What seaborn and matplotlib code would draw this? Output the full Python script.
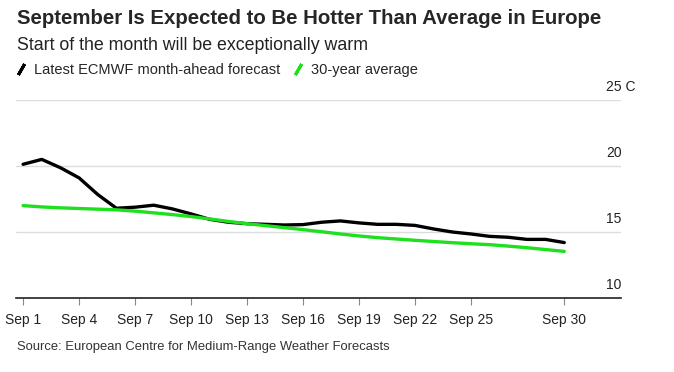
import matplotlib
matplotlib.use("Agg")
import matplotlib.pyplot as plt
import matplotlib.transforms as mtransforms
from matplotlib.lines import Line2D
import pandas as pd
import seaborn as sns

# daily values, deg C
days = list(range(1, 31))
forecast = [20.13, 20.5, 19.87, 19.1, 17.84, 16.8, 16.88, 17.03, 16.75, 16.37,
            15.96, 15.74, 15.63, 15.58, 15.53, 15.56, 15.74, 15.84, 15.69, 15.58,
            15.58, 15.5, 15.23, 15.0, 14.85, 14.67, 14.6, 14.44, 14.44, 14.2]
average = [17.0, 16.9, 16.83, 16.78, 16.73, 16.68, 16.58, 16.45, 16.32, 16.17,
           15.99, 15.8, 15.63, 15.48, 15.33, 15.18, 15.02, 14.85, 14.7, 14.57,
           14.47, 14.37, 14.28, 14.19, 14.11, 14.04, 13.93, 13.81, 13.67, 13.53]

series_names = ["Latest ECMWF month-ahead forecast", "30-year average"]
series_colors = ["#000000", "#1ee01e"]

xtick_days = [1, 4, 7, 10, 13, 16, 19, 22, 25, 30]
xtick_labels = [f"Sep {d}" for d in xtick_days]
ytick_vals = [10, 15, 20, 25]
ytick_labels = ["10", "15", "20", "25 C"]

df = pd.DataFrame({
    "day": days * 2,
    "temp": forecast + average,
    "series": [series_names[0]] * len(days) + [series_names[1]] * len(days),
})

sns.set_style("white")
plt.rcParams["font.family"] = ["Liberation Sans", "DejaVu Sans"]

fig = plt.figure(figsize=(6.74, 3.72), dpi=100)
ax = fig.add_axes([16 / 674, 74 / 372, 605 / 674, 198 / 372])

sns.lineplot(data=df, x="day", y="temp", hue="series",
             palette=dict(zip(series_names, series_colors)),
             linewidth=2.4, legend=False, ax=ax)

ax.set_xlim(0.62, 33.04)
ax.set_ylim(10, 25)
ax.set_xlabel("")
ax.set_ylabel("")

# gridlines and right-side labels sitting on top of them
for v in ytick_vals:
    if v > 10:
        ax.axhline(v, color="#dcdcdc", linewidth=1, zorder=0)
ax.set_yticks([])
trans = mtransforms.blended_transform_factory(ax.transAxes, ax.transData)
for v, lab in zip(ytick_vals, ytick_labels):
    ax.text(0.975, v + 0.95, lab, transform=trans, ha="left", va="center",
            fontsize=10, color="#222222")

ax.set_xticks(xtick_days)
ax.set_xticklabels(xtick_labels, fontsize=10, color="#222222")
ax.tick_params(axis="x", direction="out", length=5, width=0.8,
               color="#888888", pad=6, bottom=True)

for side in ["top", "right", "left"]:
    ax.spines[side].set_visible(False)
ax.spines["bottom"].set_color("#222222")
ax.spines["bottom"].set_linewidth(1.2)

fig.text(17 / 674, 1 - 18 / 372, "September Is Expected to Be Hotter Than Average in Europe",
         fontsize=14.7, fontweight="bold", va="center", ha="left")
fig.text(17 / 674, 1 - 45 / 372, "Start of the month will be exceptionally warm",
         fontsize=12.8, va="center", ha="left", color="#222222")

handles = [Line2D([], [], color=c, marker=(2, 2, -30), linestyle="none",
                  markersize=9, markeredgewidth=2.2, markeredgecolor=c)
           for c in series_colors]
fig.legend(handles, series_names, loc="center left",
           bbox_to_anchor=(15 / 674, 1 - 70 / 372), ncol=2, frameon=False,
           fontsize=10.5, handlelength=0.8, handletextpad=0.5, columnspacing=0.8,
           borderaxespad=0, borderpad=0)

fig.text(17 / 674, 1 - 347 / 372, "Source: European Centre for Medium-Range Weather Forecasts",
         fontsize=9.4, va="center", ha="left", color="#333333")

fig.savefig("out.png", dpi=100)
